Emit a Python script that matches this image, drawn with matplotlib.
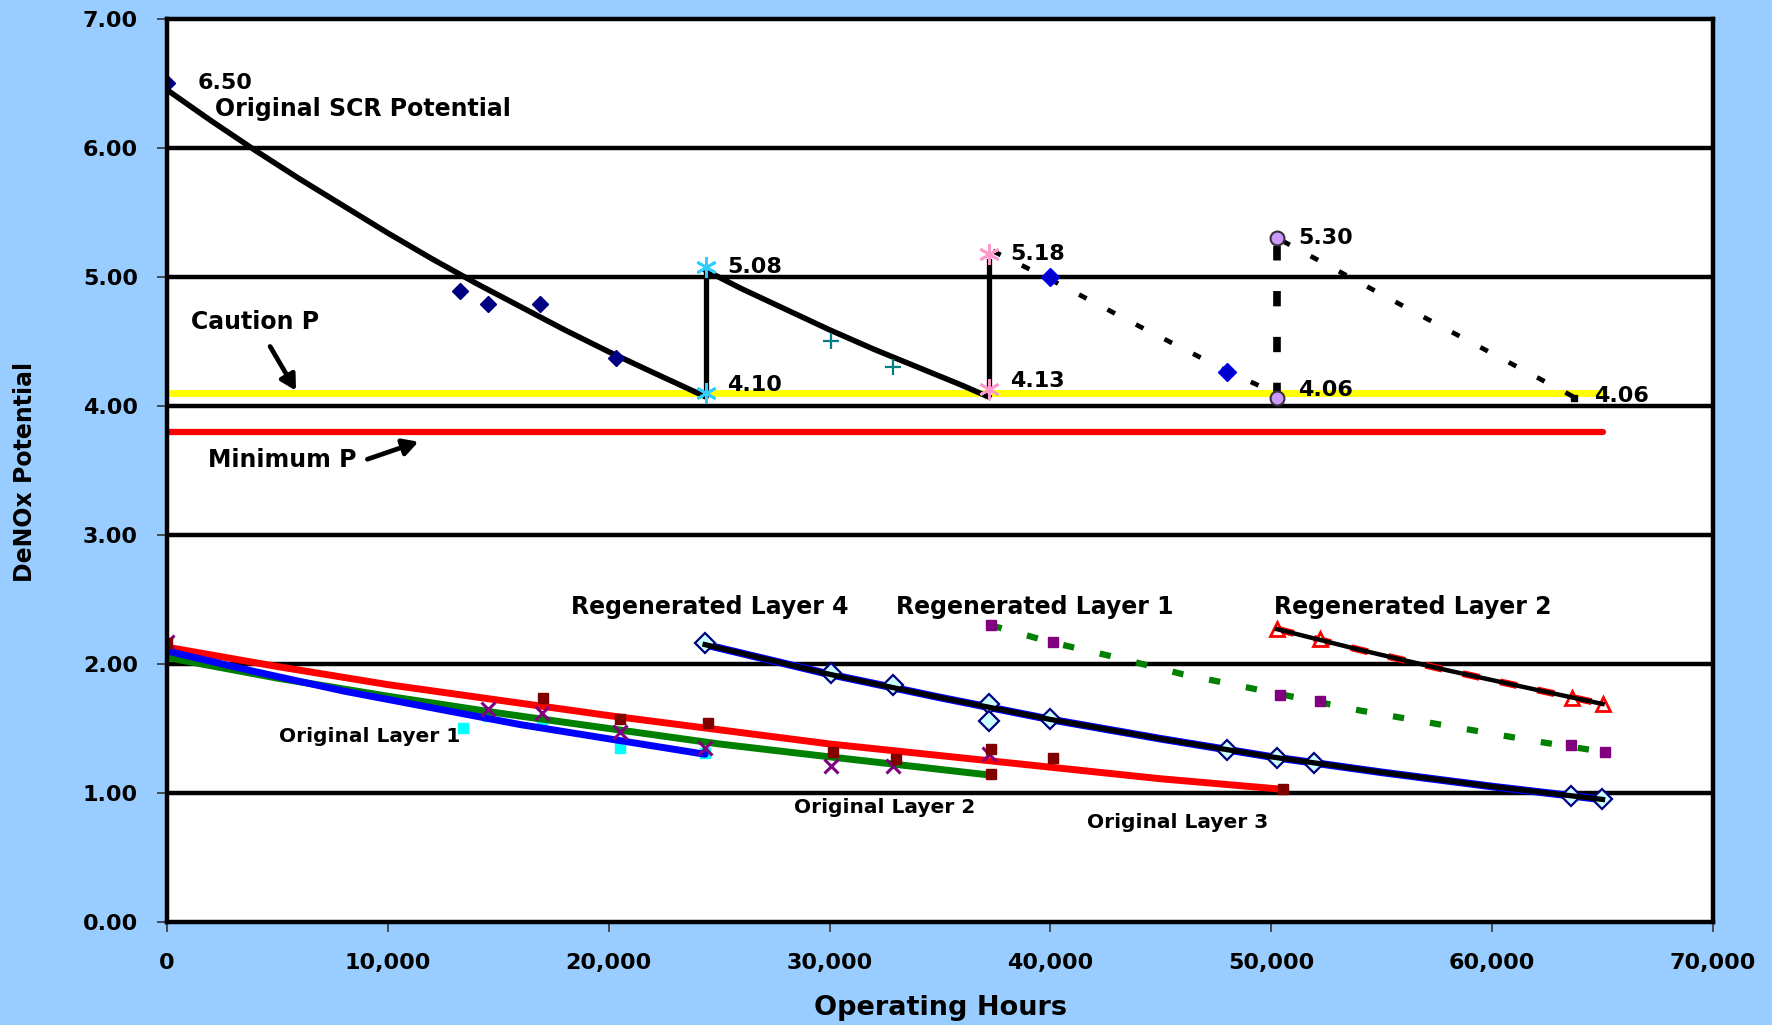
import matplotlib
matplotlib.use("Agg")
import matplotlib.pyplot as plt
from matplotlib.ticker import FuncFormatter, MultipleLocator

plt.rcParams['font.family'] = ['DejaVu Sans']
plt.rcParams['font.weight'] = 'bold'

# ---------------- SCR potential (upper group) ----------------
scr1_hours = [0, 2000, 4000, 6000, 8000, 10000, 12000, 14000, 16000, 18000, 20000, 22000, 24400]
scr1_pot = [6.45, 6.21, 5.98, 5.76, 5.55, 5.34, 5.14, 4.95, 4.77, 4.59, 4.42, 4.26, 4.07]
scr2_hours = [24400, 26000, 28000, 30000, 32000, 34000, 36000, 37200]
scr2_pot = [5.05, 4.91, 4.75, 4.59, 4.44, 4.30, 4.16, 4.07]
scr3_hours = [37400, 40000, 44000, 48000, 49800]
scr3_pot = [5.20, 4.98, 4.62, 4.27, 4.13]
scr4_hours = [50500, 57000, 63700]
scr4_pot = [5.28, 4.68, 4.07]

# measured SCR potential points
scr_meas_hours = [0, 13255, 14534, 16889, 20317]
scr_meas_pot = [6.50, 4.89, 4.79, 4.79, 4.37]
cycle2_meas_hours = [30040, 32855]
cycle2_meas_pot = [4.50, 4.30]
cycle3_meas_hours = [39970, 48000]
cycle3_meas_pot = [5.00, 4.26]

# regeneration events: potential before / after
regen_hours = [24400, 37200, 50255]
regen_before = [4.10, 4.13, 4.06]
regen_after = [5.08, 5.18, 5.30]
end_hours = 63700
end_pot = 4.06

caution_p = 4.10
minimum_p = 3.80
limit_hours = [0, 65000]

# ---------------- layer potentials (lower group) ----------------
orig1_hours = [0, 4000, 8000, 12000, 16000, 20000, 24360]
orig1_pot = [2.10, 1.94, 1.79, 1.66, 1.53, 1.42, 1.30]
orig2_hours = [0, 5000, 10000, 15000, 20000, 25000, 30000, 37200]
orig2_pot = [2.05, 1.89, 1.75, 1.62, 1.50, 1.38, 1.28, 1.14]
orig3_hours = [0, 5000, 10000, 15000, 20000, 25000, 30000, 35000, 40000, 45000, 50400]
orig3_pot = [2.13, 1.98, 1.84, 1.72, 1.60, 1.49, 1.38, 1.29, 1.20, 1.11, 1.03]

regen4_hours = [24360, 30000, 35000, 40000, 45000, 50000, 55000, 60000, 65000]
regen4_pot = [2.15, 1.92, 1.74, 1.57, 1.42, 1.28, 1.16, 1.05, 0.95]
regen1_hours = [37300, 40000, 43000, 46000, 50000, 54000, 58000, 62000, 65000]
regen1_pot = [2.30, 2.17, 2.05, 1.92, 1.78, 1.64, 1.52, 1.40, 1.32]
regen2_hours = [50255, 54000, 58000, 62000, 65000]
regen2_pot = [2.27, 2.11, 1.95, 1.80, 1.69]

# measured layer points
l1_meas_hours = [13408, 14534, 16965, 20520, 24360]
l1_meas_pot = [1.50, 1.60, 1.56, 1.35, 1.31]
l2_meas_hours = [0, 14534, 16965, 20520, 24360, 30040, 32855, 37206]
l2_meas_pot = [2.17, 1.65, 1.62, 1.47, 1.35, 1.21, 1.21, 1.30]
l3_meas_hours = [0, 17042, 20520, 24514, 30143, 33010, 37308, 37308, 40123, 50512]
l3_meas_pot = [2.16, 1.74, 1.57, 1.54, 1.32, 1.26, 1.34, 1.15, 1.27, 1.03]
r4_meas_hours = [24360, 30040, 32855, 37206, 37206, 39970, 48004, 50255, 51944, 63562, 64995]
r4_meas_pot = [2.16, 1.93, 1.84, 1.69, 1.56, 1.57, 1.33, 1.27, 1.23, 0.98, 0.95]
r1_meas_hours = [37300, 40123, 50409, 52200, 63562, 65100]
r1_meas_pot = [2.30, 2.17, 1.76, 1.71, 1.37, 1.32]
r2_meas_hours = [50255, 52200, 63600, 65000]
r2_meas_pot = [2.27, 2.19, 1.74, 1.69]

x_ticks = [0, 10000, 20000, 30000, 40000, 50000, 60000, 70000]

# ---------------- figure ----------------
fig = plt.figure(figsize=(17.72, 10.25), dpi=100, facecolor='#99CCFF')
ax = fig.add_axes([0.0943, 0.1005, 0.8724, 0.881])
ax.set_facecolor('white')
ax.set_xlim(0, 70000)
ax.set_ylim(0, 7)

for gy in range(1, 7):
    ax.axhline(gy, color='black', lw=3.2, zorder=1)

# caution / minimum limits
ax.plot(limit_hours, [caution_p, caution_p], color='#FFFF00', lw=5, zorder=2,
        solid_capstyle='butt')
ax.plot(limit_hours, [minimum_p, minimum_p], color='#FF0000', lw=4.5, zorder=2,
        solid_capstyle='round')

# SCR potential cycles
dots = (0, (1.8, 5.0))
ax.plot(scr1_hours, scr1_pot, color='black', lw=4, zorder=4)
ax.plot(scr2_hours, scr2_pot, color='black', lw=4, zorder=4)
ax.plot(scr3_hours, scr3_pot, color='black', lw=3.4, zorder=4, linestyle=dots)
ax.plot(scr4_hours, scr4_pot, color='black', lw=3.4, zorder=4, linestyle=dots)
for h, b, a, ls in zip(regen_hours, regen_before, regen_after,
                       ['-', '-', (0, (2.0, 4.0))]):
    lw = 3.8 if ls == '-' else 5.5
    ax.plot([h, h], [b, a - 0.06], color='black', lw=lw, zorder=4, linestyle=ls)

ax.plot(scr_meas_hours, scr_meas_pot, 'D', color='#000080', ms=8,
        markeredgecolor='#000080', zorder=5)
ax.plot(cycle2_meas_hours, cycle2_meas_pot, '+', color='#008080', ms=12, mew=1.6, zorder=5)
ax.plot(cycle3_meas_hours, cycle3_meas_pot, 'D', color='#0000CC', ms=9,
        markeredgecolor='#0000FF', zorder=5)

asterisk = (6, 2, 0)
regen_marks = [(asterisk, '#33CCFF'), (asterisk, '#FF99CC'), ('o', '#CC99FF')]
for h, b, a, (m, c) in zip(regen_hours, regen_before, regen_after, regen_marks):
    if m == 'o':
        ax.plot([h, h], [b, a], 'o', color=c, ms=10, markeredgecolor='#333333',
                mew=1.5, zorder=6)
    else:
        ax.plot([h, h], [b, a], marker=m, linestyle='none', color=c, ms=15,
                markeredgecolor=c, mew=2, zorder=6)
ax.plot([end_hours], [end_pot], 's', color='black', ms=4, zorder=6)

# value labels
val_kw = dict(fontsize=16, fontweight='bold', va='center', ha='left', zorder=7)
ax.text(scr_meas_hours[0] + 1400, scr_meas_pot[0], f"{scr_meas_pot[0]:.2f}", **val_kw)
for h, b, a in zip(regen_hours, regen_before, regen_after):
    ax.text(h + 970, a, f"{a:.2f}", **val_kw)
    ax.text(h + 970, b + 0.06, f"{b:.2f}", **val_kw)
ax.text(end_hours + 900, end_pot + 0.02, f"{end_pot:.2f}", **val_kw)

# lower group: original layers
ax.plot(orig3_hours, orig3_pot, color='#FF0000', lw=5, zorder=3, solid_capstyle='round')
ax.plot(orig2_hours, orig2_pot, color='#008000', lw=5, zorder=3, solid_capstyle='round')
ax.plot(orig1_hours, orig1_pot, color='#0000FF', lw=5, zorder=3, solid_capstyle='round')
ax.plot(l1_meas_hours, l1_meas_pot, 's', color='#00FFFF', ms=7, zorder=2.5)
ax.plot(l2_meas_hours, l2_meas_pot, 'x', color='#800080', ms=10, mew=2.2, zorder=3.5)
ax.plot(l3_meas_hours, l3_meas_pot, 's', color='#800000', ms=7, zorder=3.5)

# lower group: regenerated layers
ax.plot(regen4_hours, regen4_pot, color='#0000FF', lw=5.5, zorder=3)
ax.plot(regen4_hours, regen4_pot, color='black', lw=3.8, zorder=3.2)
ax.plot(r4_meas_hours, r4_meas_pot, 'D', color='#CCFFFF', ms=10,
        markeredgecolor='#000080', mew=1.6, zorder=3.1)

ax.plot(regen1_hours, regen1_pot, color='#008000', lw=4.5, zorder=3,
        linestyle=(0, (1.8, 4.2)))
ax.plot(r1_meas_hours, r1_meas_pot, 's', color='#800080', ms=7, zorder=3.1)

ax.plot(regen2_hours, regen2_pot, color='#FF0000', lw=5, zorder=3,
        linestyle=(0, (2.5, 3.0)))
ax.plot(regen2_hours, regen2_pot, color='black', lw=3.2, zorder=3.2)
ax.plot(r2_meas_hours, r2_meas_pot, '^', color='white', ms=10,
        markeredgecolor='#FF0000', mew=2, zorder=3.1)

# annotations
lab_kw = dict(fontsize=17, fontweight='bold', va='center', ha='left', zorder=7)
small_kw = dict(fontsize=14.5, fontweight='bold', va='center', ha='left', zorder=7)
ax.text(2150, 6.30, 'Original SCR Potential', **lab_kw)
ax.text(1075, 4.65, 'Caution P', **lab_kw)
ax.text(1842, 3.58, 'Minimum P', **lab_kw)
ax.text(18270, 2.44, 'Regenerated Layer 4', **lab_kw)
ax.text(33010, 2.44, 'Regenerated Layer 1', **lab_kw)
ax.text(50100, 2.44, 'Regenerated Layer 2', **lab_kw)
ax.text(5067, 1.44, 'Original Layer 1', **small_kw)
ax.text(28400, 0.885, 'Original Layer 2', **small_kw)
ax.text(41660, 0.77, 'Original Layer 3', **small_kw)

arrow_kw = dict(arrowstyle='-|>,head_length=0.9,head_width=0.5', color='black', lw=3.4)
ax.annotate('', xy=(5900, caution_p), xytext=(4600, 4.48), arrowprops=arrow_kw, zorder=7)
ax.annotate('', xy=(11500, 3.73), xytext=(8950, 3.58), arrowprops=arrow_kw, zorder=7)

# axes styling
for s in ax.spines.values():
    s.set_linewidth(3.2)
    s.set_color('black')
    s.set_zorder(8)
ax.set_xticks(x_ticks)
ax.yaxis.set_major_locator(MultipleLocator(1))
ax.xaxis.set_major_formatter(FuncFormatter(lambda v, p: f"{int(v):,}"))
ax.yaxis.set_major_formatter(FuncFormatter(lambda v, p: f"{v:.2f}"))
ax.tick_params(axis='both', direction='out', length=7, width=1.2, color='#333333',
               labelsize=16)
ax.tick_params(axis='x', pad=15)
ax.tick_params(axis='y', pad=14)
for lab in ax.get_xticklabels() + ax.get_yticklabels():
    lab.set_fontweight('bold')

fig.text(0.014, 0.540, 'DeNOx Potential', rotation=90, fontsize=17, fontweight='bold',
         va='center', ha='center')
fig.text(0.531, 0.017, 'Operating Hours', fontsize=19.5, fontweight='bold',
         va='center', ha='center')

fig.savefig('out.png', dpi=100, facecolor=fig.get_facecolor())
